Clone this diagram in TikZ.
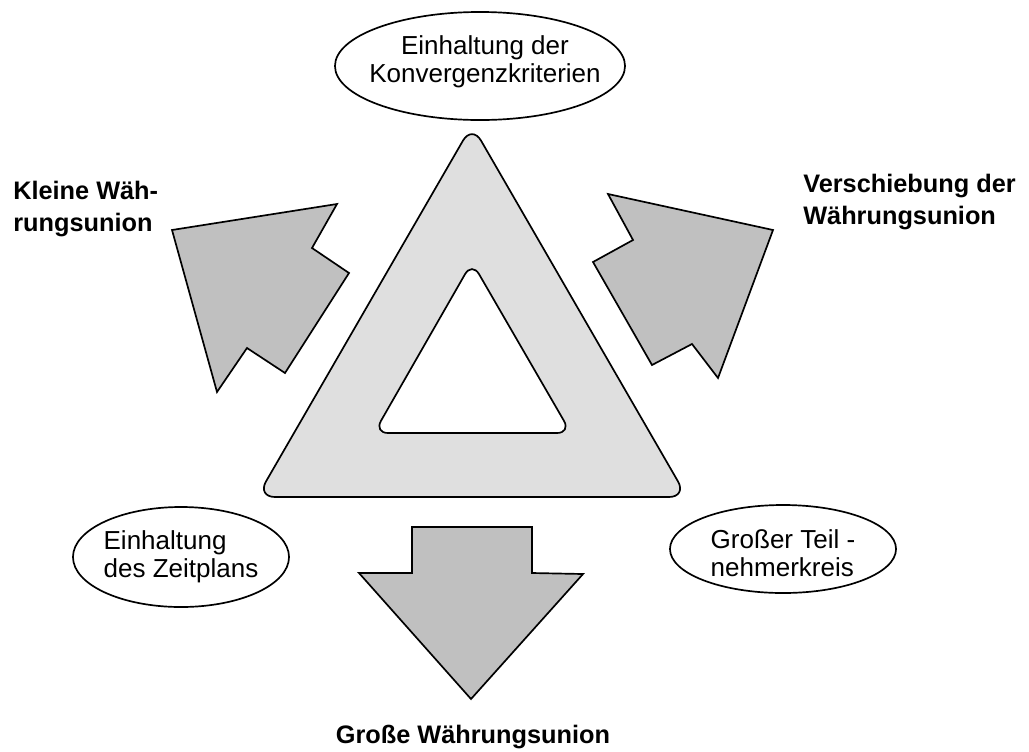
\documentclass[tikz,border=0pt]{standalone}
\usepackage{fontspec}
\setmainfont{Liberation Sans}
\usetikzlibrary{shapes.geometric}

\definecolor{triGray}{RGB}{223,223,223}
\definecolor{arrGray}{RGB}{192,192,192}

\begin{document}
\begin{tikzpicture}[x=0.025cm, y=-0.025cm,
    bubble/.style={draw, ellipse, line width=1.2pt, inner sep=0pt},
    bubbletext/.style={inner sep=0pt, font=\fontsize{18.5}{20}\selectfont},
    bigarrow/.style={draw, fill=arrGray, line width=1.2pt, line join=miter},
    headline/.style={inner sep=0pt, align=left, font=\fontsize{18}{22.8}\selectfont\bfseries}]
    \useasboundingbox (0,0) rectangle (1029,751);

    % triangle with hole
    \draw[fill=triGray, line width=1.2pt, rounded corners=0.45cm]
        (472,497) -- (687,497) -- (472,125) -- (257,497) -- cycle;
    \draw[fill=white, line width=1.2pt, rounded corners=0.35cm]
        (472,433) -- (571,433) -- (472,262) -- (374,433) -- cycle;

    % the three arrows
    \draw[bigarrow] (172,230) -- (337,204) -- (312,248) -- (349,273)
        -- (285,373) -- (247,348) -- (217,392) -- cycle;
    \draw[bigarrow] (608,194) -- (773,230) -- (718,378) -- (692,344)
        -- (652,365) -- (593,262) -- (633,240) -- cycle;
    \draw[bigarrow] (412,527) -- (532,527) -- (532,573) -- (583,574)
        -- (471,699) -- (359,573) -- (412,573) -- cycle;

    % ellipses
    \node[bubble, minimum width=7.25cm, minimum height=2.7cm] (konv) at (480,66) {};
    \node[bubbletext, align=center] (konvtext) at (485,62) {Einhaltung der\\Konvergenzkriterien};

    \node[bubble, minimum width=5.4cm, minimum height=2.5cm] (zeit) at (181,557) {};
    \node[bubbletext, align=left] (zeittext) at (zeit.center) {Einhaltung\\des Zeitplans};

    \node[bubble, minimum width=5.65cm, minimum height=2.2cm] (teil) at (783,549) {};
    \node[bubbletext, align=left] (teiltext) at (783,553) {Großer Teil -\\nehmerkreis};

    % outcomes
    \node[headline, anchor=north west] (klein) at (13,181) {Kleine Wäh-\\rungsunion};
    \node[headline, anchor=north west] (verschieb) at (803,174) {Verschiebung der\\Währungsunion};
    \node[headline, anchor=base] (gross) at (473,743) {Große Währungsunion};
\end{tikzpicture}
\end{document}
